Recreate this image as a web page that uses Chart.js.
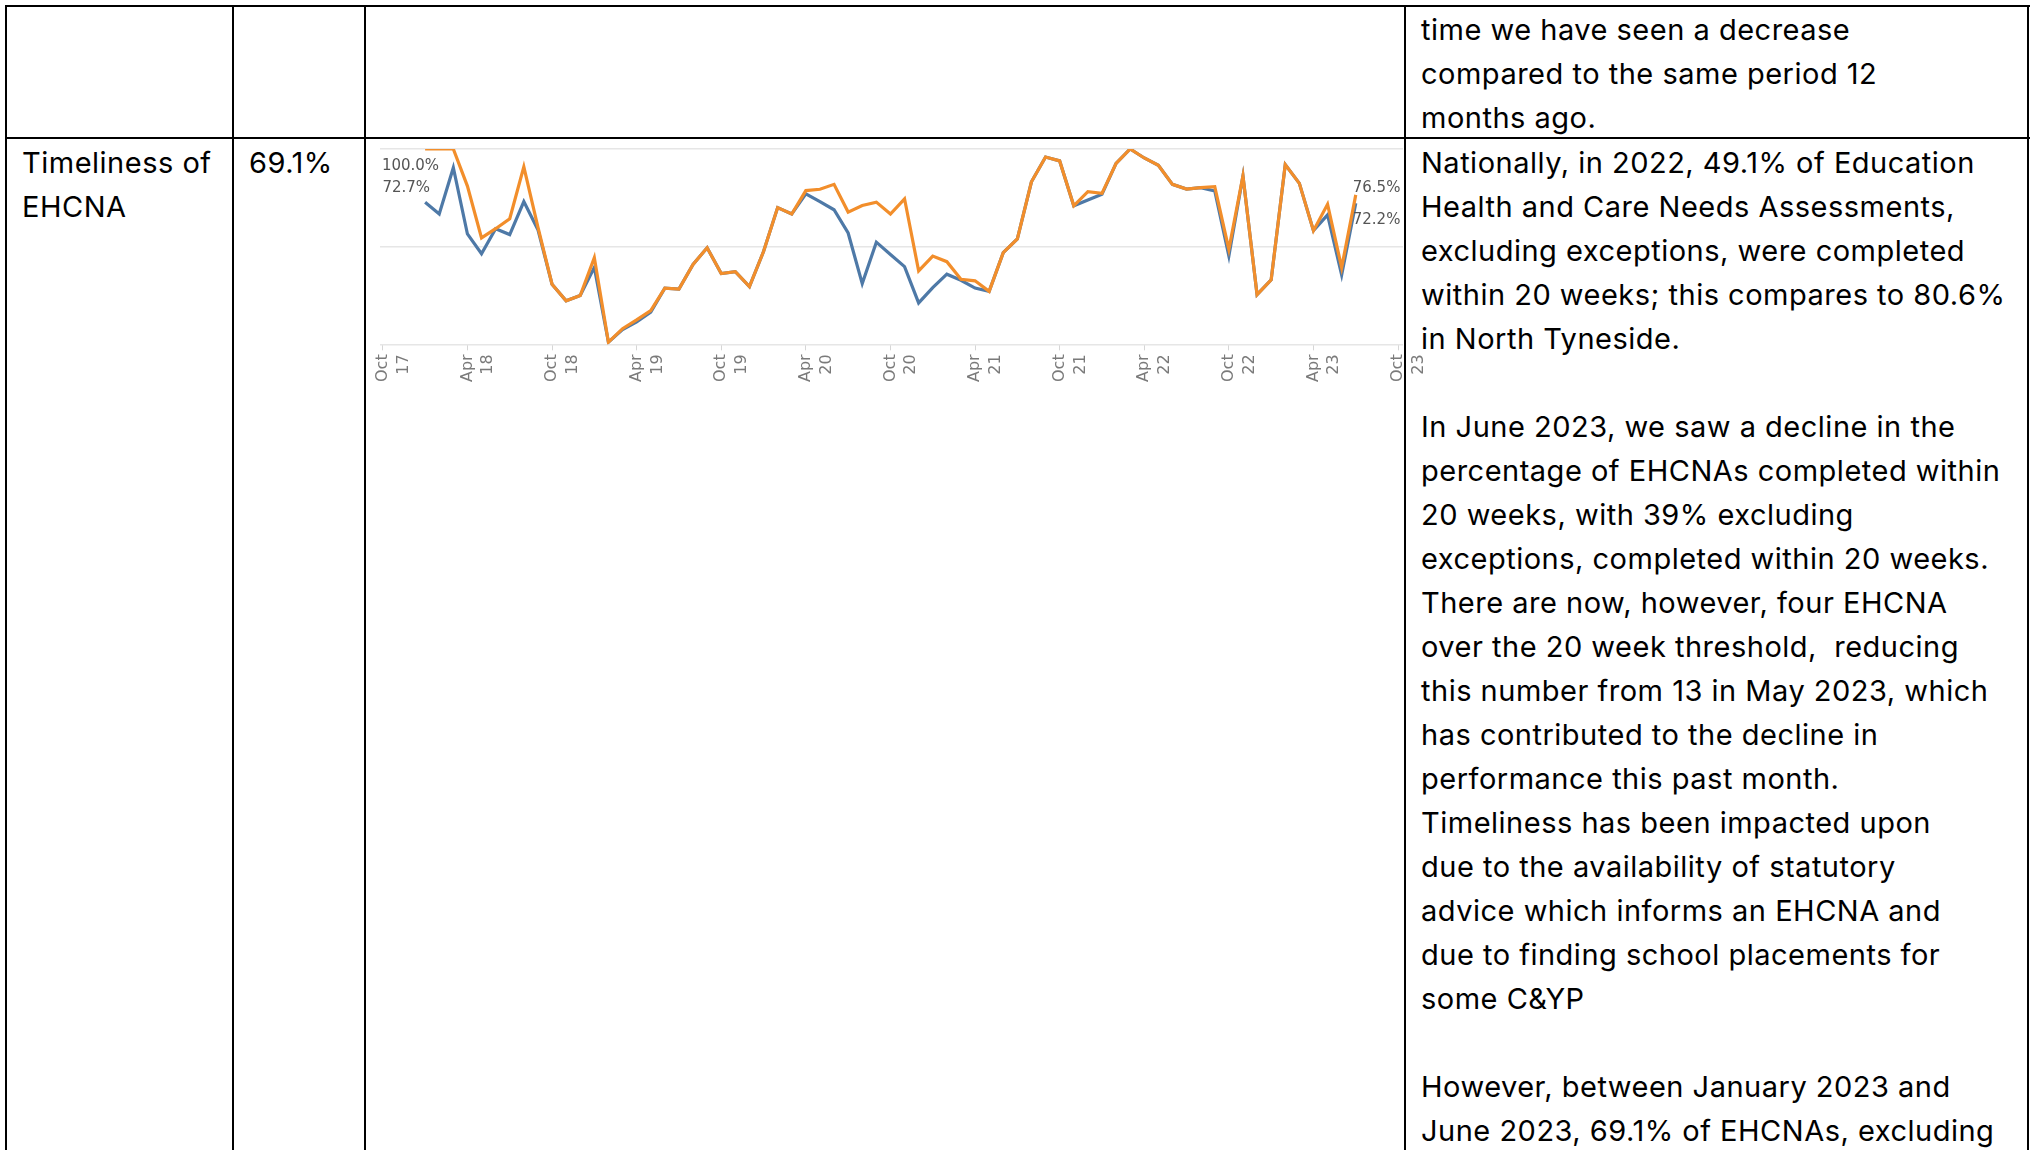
<!DOCTYPE html>
<html>
<head>
<meta charset="utf-8">
<script src="https://cdn.jsdelivr.net/npm/chart.js@4/dist/chart.umd.min.js"></script>
<style>
  html, body { margin: 0; padding: 0; background: #fff; }
  body { width: 2031px; height: 1150px; overflow: hidden; position: relative; font-family: Inter, "Open Sans", sans-serif; color: #000; }
  .hline, .vline { position: absolute; background: #000; }
  .hline { height: 2px; left: 5px; width: 2025px; }
  .vline { width: 2px; top: 5px; height: 1150px; }
  .txt { position: absolute; font-size: 29px; letter-spacing: 0.5px; line-height: 44px; white-space: pre; }
  .chart-box { position: absolute; left: 367px; top: 140px; width: 1058px; height: 246px; }
</style>
</head>
<body>
  <div class="hline" style="top:5px"></div>
  <div class="hline" style="top:137px"></div>
  <div class="vline" style="left:5px"></div>
  <div class="vline" style="left:232px"></div>
  <div class="vline" style="left:364px"></div>
  <div class="vline" style="left:1404px"></div>
  <div class="vline" style="left:2027px"></div>

  <div class="txt" style="left:1421px; top:8px">time we have seen a decrease
compared to the same period 12
months ago.</div>

  <div class="txt" style="left:22px; top:141px">Timeliness of
EHCNA</div>
  <div class="txt" style="left:249px; top:141px">69.1%</div>

  <div class="txt" style="left:1421px; top:141px">Nationally, in 2022, 49.1% of Education
Health and Care Needs Assessments,
excluding exceptions, were completed
within 20 weeks; this compares to 80.6%
in North Tyneside.

In June 2023, we saw a decline in the
percentage of EHCNAs completed within
20 weeks, with 39% excluding
exceptions, completed within 20 weeks.
There are now, however, four EHCNA
over the 20 week threshold,  reducing
this number from 13 in May 2023, which
has contributed to the decline in
performance this past month.
Timeliness has been impacted upon
due to the availability of statutory
advice which informs an EHCNA and
due to finding school placements for
some C&amp;YP

However, between January 2023 and
June 2023, 69.1% of EHCNAs, excluding</div>

  <div class="chart-box"><canvas id="timeliness"></canvas></div>

<script>
// axis ticks every 6 months, index 0 = Oct 17
const tickLabels = ['Oct 17', 'Apr 18', 'Oct 18', 'Apr 19', 'Oct 19', 'Apr 20', 'Oct 20',
  'Apr 21', 'Oct 21', 'Apr 22', 'Oct 22', 'Apr 23', 'Oct 23'];

// monthly points, Jan 18 .. Jul 23
const months = [
  'Jan 18', 'Feb 18', 'Mar 18', 'Apr 18', 'May 18', 'Jun 18', 'Jul 18', 'Aug 18', 'Sep 18', 'Oct 18', 'Nov 18', 'Dec 18',
  'Jan 19', 'Feb 19', 'Mar 19', 'Apr 19', 'May 19', 'Jun 19', 'Jul 19', 'Aug 19', 'Sep 19', 'Oct 19', 'Nov 19', 'Dec 19',
  'Jan 20', 'Feb 20', 'Mar 20', 'Apr 20', 'May 20', 'Jun 20', 'Jul 20', 'Aug 20', 'Sep 20', 'Oct 20', 'Nov 20', 'Dec 20',
  'Jan 21', 'Feb 21', 'Mar 21', 'Apr 21', 'May 21', 'Jun 21', 'Jul 21', 'Aug 21', 'Sep 21', 'Oct 21', 'Nov 21', 'Dec 21',
  'Jan 22', 'Feb 22', 'Mar 22', 'Apr 22', 'May 22', 'Jun 22', 'Jul 22', 'Aug 22', 'Sep 22', 'Oct 22', 'Nov 22', 'Dec 22',
  'Jan 23', 'Feb 23', 'Mar 23', 'Apr 23', 'May 23', 'Jun 23', 'Jul 23'
];
const firstMonthIndex = 3; // Jan 18 sits 3 months after Oct 17

// % completed within 20 weeks, excluding exceptions (orange)
const excludingExceptions = [
  100, 100, 100, 81, 54.5, 59.2, 64.3, 90.9, 60, 30.8, 22.3, 25,
  44.4, 1.1, 8, 12.5, 17.3, 28.8, 28.3, 40.9, 49.4, 36.2, 37.2, 29.6,
  47.5, 70, 66.7, 78.7, 79.4, 81.9, 67.7, 71.1, 72.8, 66.7, 74.5, 37.6,
  45.2, 42.3, 33.3, 32.5, 27.1, 46.9, 54, 83.2, 95.9, 93.9, 70.9, 78.2,
  77.3, 92.6, 100, 95.4, 91.7, 81.9, 79.5, 80.2, 80.7, 48.6, 86.2, 25.4,
  33, 92, 82.4, 58.2, 71.7, 39.3, 76.5
];
// % completed within 20 weeks, including exceptions (blue)
const includingExceptions = [
  72.7, 66.7, 90.4, 56.5, 46.4, 59.2, 56.2, 73.1, 58.7, 30.8, 22.3, 25,
  39.4, 1.1, 7.5, 11.5, 16.5, 28.8, 28.3, 40.9, 49.4, 36.2, 37.2, 29.6,
  47.5, 70, 66.7, 77, 73.1, 68.9, 57, 31.1, 52.3, 46, 39.8, 21.2,
  29, 35.9, 32.8, 28.8, 27.1, 46.9, 54, 83.2, 95.9, 93.9, 70.9, 73.9,
  76.8, 92.6, 100, 95.4, 91.7, 81.9, 79.5, 80.2, 78.5, 45.2, 86.2, 25.4,
  33, 92, 82.4, 58.2, 66.3, 35.5, 72.2
];

const toPoints = arr => arr.map((v, i) => ({ x: i + firstMonthIndex, y: v }));

const labelFont = '15px "DejaVu Sans", sans-serif';

// start / end value labels like the Tableau view
const endLabels = {
  id: 'endLabels',
  afterDatasetsDraw(chart) {
    const ctx = chart.ctx;
    const orange = chart.getDatasetMeta(0).data;
    const blue = chart.getDatasetMeta(1).data;
    const fmt = v => v.toFixed(1) + '%';
    ctx.save();
    ctx.font = labelFont;
    ctx.fillStyle = '#555';
    ctx.textBaseline = 'middle';
    // start labels sit to the left of the first point
    ctx.textAlign = 'right';
    const o0 = orange[0];
    ctx.fillText(fmt(excludingExceptions[0]), o0.x + 14, o0.y + 17);
    ctx.fillText(fmt(includingExceptions[0]), o0.x + 5, o0.y + 39);
    // end labels
    ctx.textAlign = 'left';
    const oN = orange[orange.length - 1], bN = blue[blue.length - 1];
    ctx.fillText(fmt(excludingExceptions[excludingExceptions.length - 1]), oN.x - 3, oN.y - 7);
    ctx.fillText(fmt(includingExceptions[includingExceptions.length - 1]), bN.x - 3, bN.y + 17);
    ctx.restore();
  }
};

new Chart(document.getElementById('timeliness'), {
  type: 'line',
  data: {
    labels: months,
    datasets: [
      {
        label: 'Excluding exceptions',
        data: toPoints(excludingExceptions),
        borderColor: '#f28e2b',
        borderWidth: 3.2,
        pointRadius: 0,
        tension: 0
      },
      {
        label: 'Including exceptions',
        data: toPoints(includingExceptions),
        borderColor: '#4e79a7',
        borderWidth: 3.2,
        pointRadius: 0,
        tension: 0
      }
    ]
  },
  options: {
    responsive: true,
    maintainAspectRatio: false,
    animation: false,
    layout: { padding: { top: 9, left: 13, right: 22, bottom: 0 } },
    plugins: { legend: { display: false }, tooltip: { enabled: false } },
    scales: {
      x: {
        type: 'linear',
        min: -0.2,
        max: 72.35,
        border: { display: false },
        grid: { drawOnChartArea: false, drawTicks: true, tickLength: 6, color: '#d6d6d6' },
        ticks: {
          autoSkip: false,
          minRotation: 90,
          maxRotation: 90,
          padding: 4,
          color: '#7a7a7a',
          font: { family: '"DejaVu Sans", sans-serif', size: 16, lineHeight: 1.3 },
          callback: v => tickLabels[v / 6].split(' ')
        },
        // one tick per half year, Oct 17 .. Oct 23
        afterBuildTicks(scale) {
          scale.ticks = tickLabels.map((_, i) => ({ value: i * 6 }));
        },
        // keep the plot full width; rotated labels need no side padding here
        afterFit(scale) {
          scale.paddingLeft = 0;
          scale.paddingRight = 0;
        }
      },
      y: {
        min: 0,
        max: 100,
        border: { display: false },
        grid: { color: '#e6e6e6', lineWidth: 1.5, drawTicks: false },
        ticks: { display: false, stepSize: 50 }
      }
    }
  },
  plugins: [endLabels]
});
</script>
</body>
</html>
